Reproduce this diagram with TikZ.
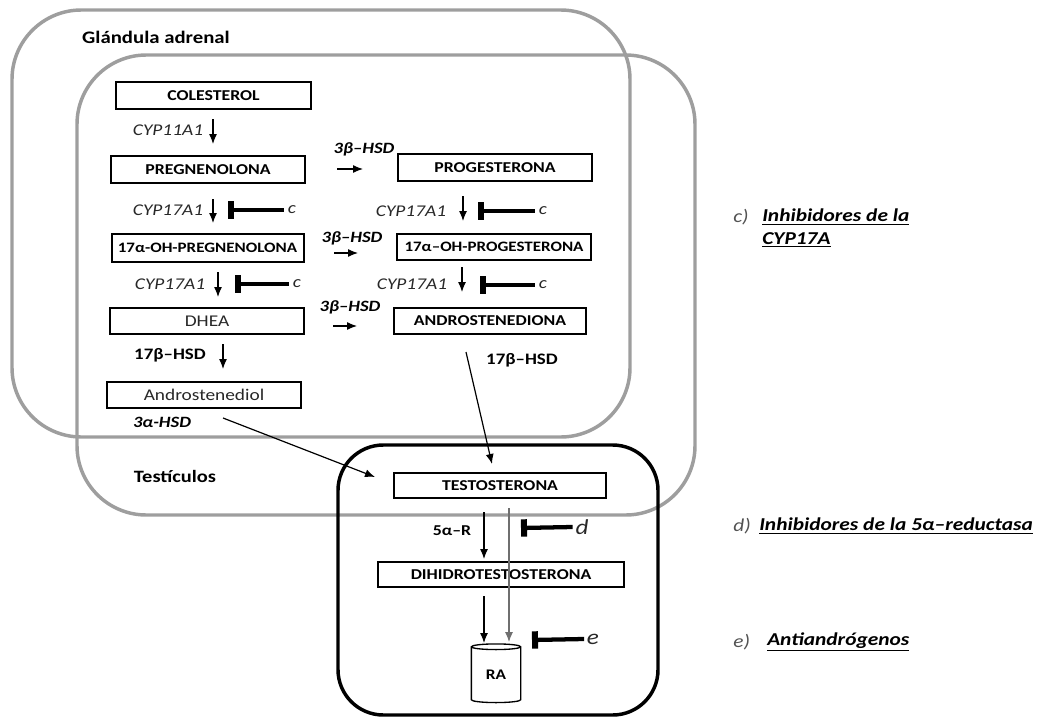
\documentclass[tikz,border=0pt]{standalone}
\usepackage{fontspec}
\setmainfont[FakeStretch=1.18]{Carlito}
\usepackage{tikz}
\usetikzlibrary{arrows.meta,shapes.geometric}
\definecolor{capsula}{RGB}{158,158,158}
\definecolor{texto}{RGB}{40,40,40}

\begin{document}
\begin{tikzpicture}[x=0.75pt, y=-0.75pt,
	caja/.style={draw, line width=1.5pt, fill=white, minimum height=20pt, inner sep=0pt, font=\fontsize{11.3}{13}\selectfont\bfseries},
	enz/.style={inner sep=0pt, text=texto, font=\fontsize{12.3}{14}\selectfont\itshape},
	hsd/.style={inner sep=0pt, font=\fontsize{11.8}{13}\selectfont\bfseries\itshape},
	flecha/.style={line width=0.9pt, -{Latex[length=7.5pt,width=6pt]}},
	inhib/.style={line width=3.2pt, -{Bar[width=13pt,line width=4.5pt]}},
	nota/.style={anchor=west, inner sep=0pt, font=\fontsize{13.6}{16}\selectfont\bfseries\itshape}]
	\useasboundingbox (0,0) rectangle (1038,717);
	
	% compartments
	\draw[capsula, line width=2.6pt, rounded corners=52pt] (12,10) rectangle (630,437);
	\draw[capsula, line width=2.6pt, rounded corners=52pt] (77,55) rectangle (695,515);
	\draw[line width=2.6pt, rounded corners=34pt] (338,445) rectangle (658,715);
	\node[inner sep=0pt, font=\fontsize{13.2}{15}\selectfont\bfseries] (adrenal) at (156,37) {Glándula adrenal};
	\node[inner sep=0pt, font=\fontsize{13}{15}\selectfont\bfseries] (testic) at (175,476) {Testículos};
	
	% steroids
	\node[caja, minimum width=146pt] (col) at (213.5,95.5) {COLESTEROL};
	\node[caja, minimum width=145.5pt] (preg) at (208,169.5) {PREGNENOLONA};
	\node[caja, minimum width=145.5pt] (prog) at (495,167.5) {PROGESTERONA};
	\node[caja, minimum width=144pt, minimum height=21pt, font=\fontsize{10.8}{12}\selectfont\bfseries] (ohpreg) at (207.5,247.5) {17α-OH-PREGNENOLONA};
	\node[caja, minimum width=145.5pt, font=\fontsize{10.8}{12}\selectfont\bfseries] (ohprog) at (494,247) {17α–OH-PROGESTERONA};
	\node[caja, minimum width=145.5pt, font=\fontsize{12.3}{14}\selectfont, text=texto] (dhea) at (207,321) {DHEA};
	\node[caja, minimum width=144pt] (andro) at (490,321) {ANDROSTENEDIONA};
	\node[caja, minimum width=145.5pt, font=\fontsize{12.3}{14}\selectfont, text=texto] (adiol) at (204,395) {Androstenediol};
	\node[caja, minimum width=159pt, minimum height=19pt] (testo) at (500,485.5) {TESTOSTERONA};
	\node[caja, minimum width=184.5pt, minimum height=19pt] (dht) at (501,574.5) {DIHIDROTESTOSTERONA};
	\node[cylinder, draw, shape border rotate=90, aspect=0.28, line width=1pt, fill=white,
		minimum width=37pt, minimum height=44pt, inner sep=0pt, font=\fontsize{11}{12}\selectfont\bfseries] (ra) at (496,675) {RA};
	
	% enzymes
	\node[enz] (cyp1) at (168,130) {CYP11A1};
	\node[enz] (cyp2) at (168,210) {CYP17A1};
	\node[enz] (cyp3) at (411,211) {CYP17A1};
	\node[enz] (cyp4) at (170,284) {CYP17A1};
	\node[enz] (cyp5) at (412,284) {CYP17A1};
	\node[hsd] (hsd1) at (364,149) {3β–HSD};
	\node[hsd] (hsd2) at (352,238) {3β–HSD};
	\node[hsd] (hsd3) at (350,307) {3β–HSD};
	\node[hsd] (hsd4) at (162,422) {3α-HSD};
	\node[inner sep=0pt, font=\fontsize{12}{14}\selectfont\bfseries] (hsd5) at (170,355) {17β–HSD};
	\node[inner sep=0pt, font=\fontsize{12}{14}\selectfont\bfseries] (hsd6) at (522,360) {17β–HSD};
	\node[inner sep=0pt, font=\fontsize{11.3}{13}\selectfont\bfseries] (red) at (452,531) {5α–R};
	
	% inhibitor letters
	\node[enz, inner sep=3pt] (c1) at (292,210) {c};
	\node[enz, inner sep=3pt] (c2) at (543,211) {c};
	\node[enz, inner sep=3pt] (c3) at (297,284) {c};
	\node[enz, inner sep=3pt] (c4) at (543,285) {c};
	\node[enz, inner sep=2pt, font=\fontsize{16}{18}\selectfont\itshape] (d1) at (582,527) {d};
	\node[enz, inner sep=2pt, font=\fontsize{16}{18}\selectfont\itshape] (e1) at (593,639) {e};
	
	% arrow ends
	\coordinate (p1) at (213,119);  \coordinate (q1) at (213,144);
	\coordinate (p2) at (213,199);  \coordinate (q2) at (213,223);
	\coordinate (p3) at (463,196);  \coordinate (q3) at (463,221);
	\coordinate (p4) at (218,272);  \coordinate (q4) at (218,297);
	\coordinate (p5) at (462,267);  \coordinate (q5) at (462,292);
	\coordinate (p6) at (223,344);  \coordinate (q6) at (223,369);
	\coordinate (p7) at (337,169);  \coordinate (q7) at (363,169);
	\coordinate (p8) at (334,253);  \coordinate (q8) at (358,253);
	\coordinate (p9) at (333,326);  \coordinate (q9) at (357,326);
	\coordinate (p10) at (223,418); \coordinate (q10) at (375,477);
	\coordinate (p11) at (466,352); \coordinate (q11) at (492,464);
	\coordinate (p12) at (484,512); \coordinate (q12) at (484,559);
	\coordinate (p13) at (484,596); \coordinate (q13) at (484,643);
	\coordinate (p14) at (509,508); \coordinate (q14) at (509,642);
	\coordinate (b1) at (228,210);  \coordinate (b2) at (478,211);
	\coordinate (b3) at (235,284);  \coordinate (b4) at (480,285);
	\coordinate (b5) at (521,528);  \coordinate (b6) at (532,640);
	
	% conversions
	\foreach \i in {1,...,13}
		\draw[flecha] (p\i) -- (q\i);
	\draw[flecha, capsula!70!black, line width=0.8pt] (p14) -- (q14);
	
	% inhibitions
	\draw[inhib] (c1.west) -- (b1);
	\draw[inhib] (c2.west) -- (b2);
	\draw[inhib] (c3.west) -- (b3);
	\draw[inhib] (c4.west) -- (b4);
	\draw[inhib] (d1.west) -- (b5);
	\draw[inhib] (e1.west) -- (b6);
	
	% drug classes
	\node[nota, font=\fontsize{13.6}{16}\selectfont\itshape, text=texto!80] (lc) at (733,217) {c)};
	\node[nota] (nc) at (762,217) {\underline{Inhibidores de la}};
	\node[nota] (nc2) at (762,240) {\underline{CYP17A}};
	\node[nota, font=\fontsize{13.6}{16}\selectfont\itshape, text=texto!80] (ld) at (733,526) {d)};
	\node[nota] (nd) at (759,526) {\underline{Inhibidores de la 5α–reductasa}};
	\node[nota, font=\fontsize{13.6}{16}\selectfont\itshape, text=texto!80] (le) at (733,642) {e)};
	\node[nota] (ne) at (767,642) {\underline{Antiandrógenos}};
	
\end{tikzpicture}
\end{document}
